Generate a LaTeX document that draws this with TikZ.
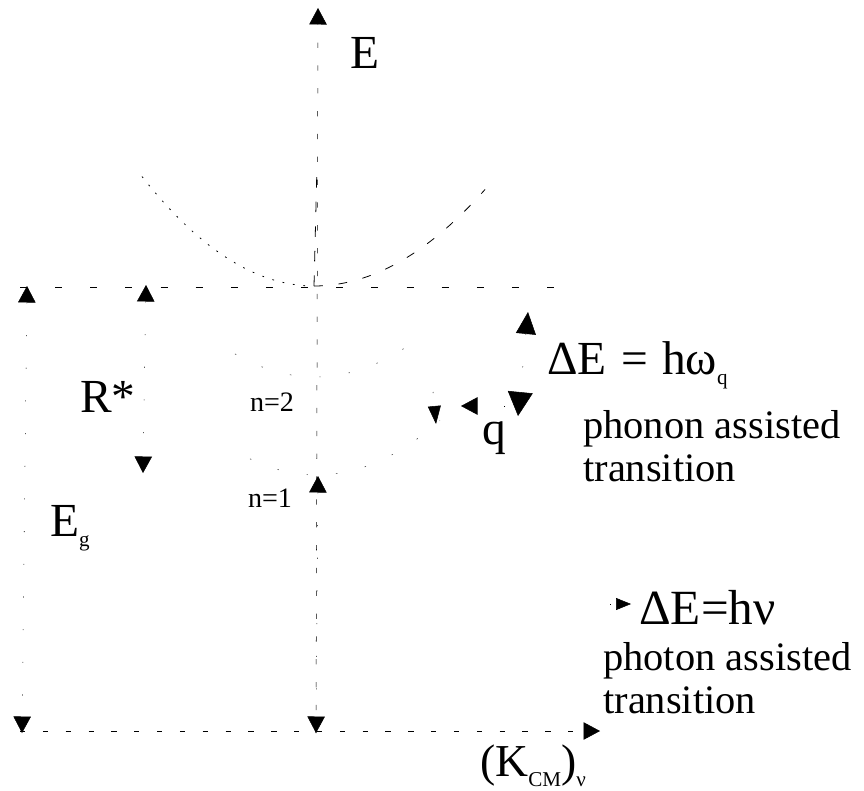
\documentclass[tikz,border=0pt]{standalone}
\usepackage{fontspec}
\setmainfont{Liberation Serif}
\usetikzlibrary{arrows.meta}
\newcommand{\lowsub}[1]{\raisebox{-0.45ex}{\fontsize{12}{12}\selectfont #1}}
\begin{document}
\begin{tikzpicture}[x=0.02cm,y=-0.02cm,>={Triangle[length=3.3mm,width=3.5mm]},
 lbl/.style={inner sep=0pt,font=\fontsize{27}{30}\selectfont},
 txt/.style={inner sep=0pt,align=left,font=\fontsize{23}{24.4}\selectfont},
 lev/.style={inner sep=0pt,font=\fontsize{16}{18}\selectfont},
 ax/.style={->,line width=0.3pt,dash pattern=on 3pt off 10pt},
 dim/.style={<->,line width=0.3pt,dash pattern=on 0.6pt off 18pt},
 pt/.style={->,line width=0.3pt,dash pattern=on 0.6pt off 18pt},
 band/.style={line width=0.45pt,dash pattern=on 4pt off 16pt},
 disp/.style={line width=0.45pt,dash pattern=on 1pt off 5pt},
 exc/.style={line width=0.35pt,black!70,dash pattern=on 0.8pt off 16pt}]
\useasboundingbox (0,0) rectangle (864,790);
\coordinate (O) at (316,733);
\coordinate (Etop) at (318,8);
\coordinate (Kbeg) at (20,731);
\coordinate (Kend) at (600,731);
\coordinate (bL) at (20,287);
\coordinate (bR) at (560,287);
\coordinate (vx) at (314,286);
\coordinate (vxTop) at (317,165);
\coordinate (gTop) at (27,286);
\coordinate (gBot) at (22,733);
\coordinate (rTop) at (146,285);
\coordinate (rBot) at (143,473);
\coordinate (n1v) at (318,476);
\coordinate (hTop) at (528,312);
\coordinate (hBot) at (518,416);
\coordinate (q1) at (505,406);
\coordinate (q2) at (461,406);

\draw[ax] (O) -- (Etop);
\draw[line width=0.45pt,dash pattern=on 6pt off 8pt] (vx) -- (vxTop);
\draw[ax] (Kbeg) -- (Kend);
\draw[band] (bL) -- (bR);
\draw[disp] plot[domain=142:314,samples=40] (\x,{286-37*((\x-314)/100)^2});
\draw[line width=0.45pt,dash pattern=on 5pt off 9pt] plot[domain=314:485,samples=40] (\x,{286-33*((\x-314)/100)^2});
\draw[exc] plot[domain=235:425,samples=40] (\x,{377-36*((\x-315)/100)^2});
\draw[exc] plot[domain=250:440,samples=40] (\x,{475-36*((\x-317)/100)^2});

\draw[dim] (gTop) -- (gBot);
\draw[dim] (rTop) -- (rBot);
\draw[dim] (n1v) -- (O);
\draw[dim,{Triangle[length=4.4mm,width=4mm]}-{Triangle[length=4.8mm,width=5mm]}] (hTop) -- (hBot);
\draw[pt] (q1) -- (q2);
\draw[pt,-{Triangle[length=3.6mm,width=2.6mm]}] (433,392) -- (436,424);
\draw[pt,-{Triangle[length=3mm,width=2.4mm]}] (610,604) -- (631,604);

\node[lbl] (Elab) at (365,53) {E};
\node[lbl] (Rlab) at (108,397) {R*};
\node[lbl] (Eg) at (70,528) {E\lowsub{g}};
\node[lev] (n2) at (272,402) {n=2};
\node[lev] (n1) at (270,498) {n=1};
\node[lbl,anchor=west] (dEq) at (547,365) {ΔE\hspace{0.3em}=\hspace{0.3em}hω\lowsub{q}};
\node[lbl] (qlab) at (494,438) {q};
\node[txt,anchor=north west] (phon) at (583,410) {phonon assisted\\transition};
\node[lbl,anchor=west,font=\fontsize{28}{30}\selectfont] (dEv) at (639,608) {ΔE=hν};
\node[txt,anchor=north west] (phot) at (603,642) {photon assisted\\transition};
\node[lbl,anchor=south,font=\fontsize{26}{28}\selectfont] (Klab) at (533,787) {(K\lowsub{CM})\lowsub{ν}};
\end{tikzpicture}
\end{document}
